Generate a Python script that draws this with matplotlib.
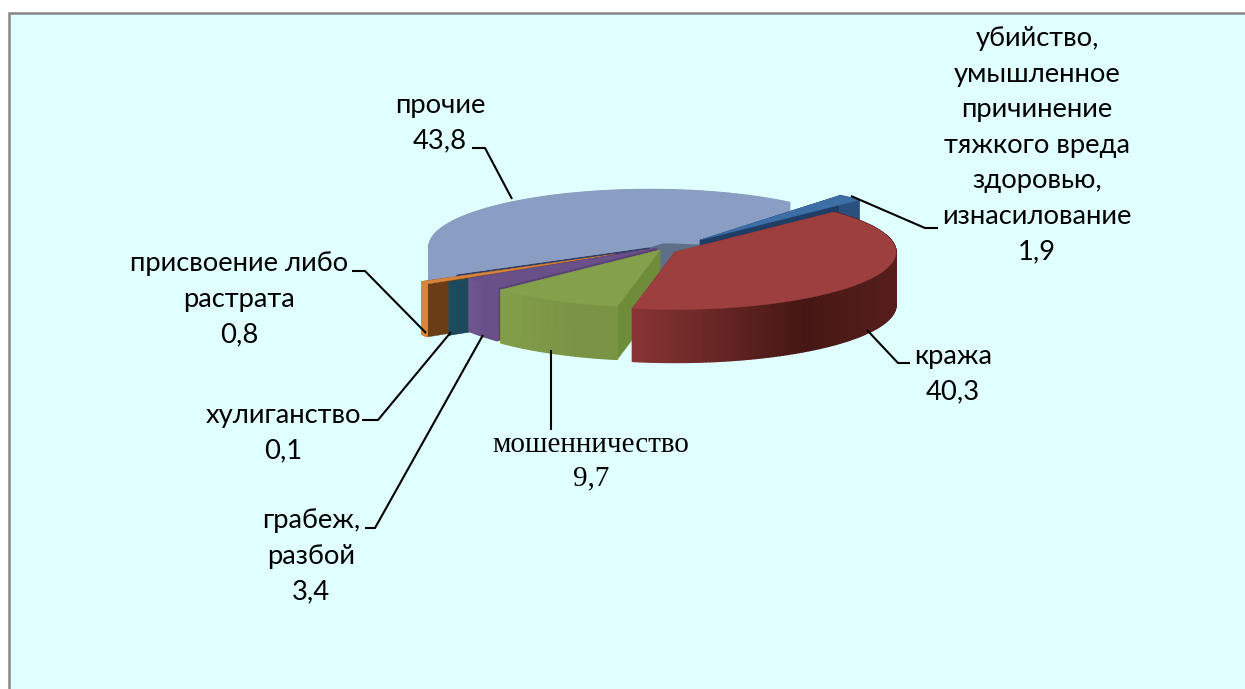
import numpy as np
import matplotlib
matplotlib.use("Agg")
import matplotlib.pyplot as plt
from matplotlib.colors import to_rgb
from matplotlib.patches import Rectangle

# ---- data ----
names = ["убийство,\nумышленное\nпричинение\nтяжкого вреда\nздоровью,\nизнасилование",
         "кража", "мошенничество", "грабеж,\nразбой", "хулиганство",
         "присвоение либо\nрастрата", "прочие"]
values = [1.9, 40.3, 9.7, 3.4, 0.1, 0.8, 43.8]
value_labels = ["1,9", "40,3", "9,7", "3,4", "0,1", "0,8", "43,8"]

# ---- styling / layout ----
W, H = 1245, 689
START = -50.8
RX, RY, DEPTH = 221, 57.5, 53
apex = [(700, 240), (675, 252), (660, 250), (657, 248), (638, 252), (616, 254), (650, 247)]
top_col = ["#3d6ea6", "#9c3f3e", "#84a04a", "#6a5088", "#1f4e5f", "#d8843c", "#8a9dc2"]
wall_col = ["#1f3e66", "#7a2b2a", "#6f8c3b", "#5a4378", "#1c4a5c", "#6b3d16", "#5f6f88"]
arc_l = ["#2a5080", "#8a3535", "#839e4a", "#70568f", "#1f4e5f", "#d8843c", "#8a9dc2"]
arc_m = ["#2a5080", "#451714", "#7a9345", "#6a5088", "#1f4e5f", "#d8843c", "#8a9dc2"]
arc_r = ["#2a5080", "#561e1b", "#7a9345", "#6a5088", "#1f4e5f", "#d8843c", "#8a9dc2"]
draw_order = [6, 0, 5, 4, 3, 2, 1]

# x centre and first baseline of each label
label_pos = [(1037, 46), (953, 364), (591, 452), (311, 528), (283, 423), (239, 271), (440, 113)]
label_font = ["sans"] * 7
label_font[2] = "serif"
leaders = [[(851, 196), (925, 228), (938, 228)],
           [(867, 330), (898, 363), (910, 363)],
           [(551, 350), (551, 430)],
           [(483, 335), (375, 528), (365, 528)],
           [(451, 332), (378, 420), (362, 420)],
           [(426, 333), (365, 271), (352, 271)],
           [(512, 199), (485, 148), (472, 148)]]

SANS = ["Lato", "Noto Sans", "DejaVu Sans"]
SERIF = ["Liberation Serif", "DejaVu Serif"]

fig = plt.figure(figsize=(W / 100, H / 100), dpi=100, facecolor="white")
ax = fig.add_axes([0, 0, 1, 1])
ax.set_xlim(0, W)
ax.set_ylim(H, 0)
ax.axis("off")
ax.add_patch(Rectangle((8.5, 12.5), 1300, 760, fc="#e0ffff", ec="#868686", lw=1.8, zorder=0))


def mix(a, b, f):
    a, b = np.array(to_rgb(a)), np.array(to_rgb(b))
    return tuple(a + (b - a) * f)


def pt(i, t):
    return apex[i][0] + RX * np.cos(np.radians(t)), apex[i][1] + RY * np.sin(np.radians(t))


edges = START + np.concatenate([[0], np.cumsum(values)]) * 360 / sum(values)

for z, i in enumerate(draw_order):
    t0, t1 = edges[i], edges[i + 1]
    zb = 2 + z * 3
    ts = np.linspace(t0, t1, max(int(t1 - t0), 3))
    xs, ys = pt(i, ts)
    ax0, ay0 = apex[i]
    # radial walls
    wall_pair = ("#333f66", "#5f6f88") if i == 6 else (wall_col[i], wall_col[i])
    for t, c in zip((t0, t1), wall_pair):
        px, py = pt(i, t)
        ax.fill([ax0, px, px, ax0], [ay0, py, py + DEPTH, ay0 + DEPTH],
                color=c, lw=0.3, zorder=zb)
    # outer wall with shading by screen position
    span = xs.max() - xs.min() + 1e-6
    for k in range(len(ts) - 1):
        f = (xs[k] - xs.min()) / span
        col = mix(arc_l[i], arc_m[i], f / 0.65) if f < 0.65 else mix(arc_m[i], arc_r[i], (f - 0.65) / 0.35)
        ax.fill([xs[k], xs[k + 1], xs[k + 1], xs[k]],
                [ys[k], ys[k + 1], ys[k + 1] + DEPTH, ys[k] + DEPTH],
                color=col, lw=1.0, zorder=zb + 1)
    # top face
    ax.fill(np.r_[ax0, xs], np.r_[ay0, ys], color=top_col[i], lw=0.3, zorder=zb + 2)

for pts in leaders:
    arr = np.array(pts)
    ax.plot(arr[:, 0], arr[:, 1], color="black", lw=1.5, zorder=40, solid_capstyle="butt")

LINE = 35.6
for i, (x, y) in enumerate(label_pos):
    lines = names[i].split("\n") + [value_labels[i]]
    for n, s in enumerate(lines):
        if label_font[i] == "serif":
            ax.text(x, y + n * 33, s, ha="center", va="baseline", family=SERIF, fontsize=21,
                    color="black", zorder=50)
        else:
            ax.text(x, y + n * LINE, s, ha="center", va="baseline", family=SANS, fontsize=19.7,
                    color="black", zorder=50)

fig.savefig("out.png", dpi=100)
